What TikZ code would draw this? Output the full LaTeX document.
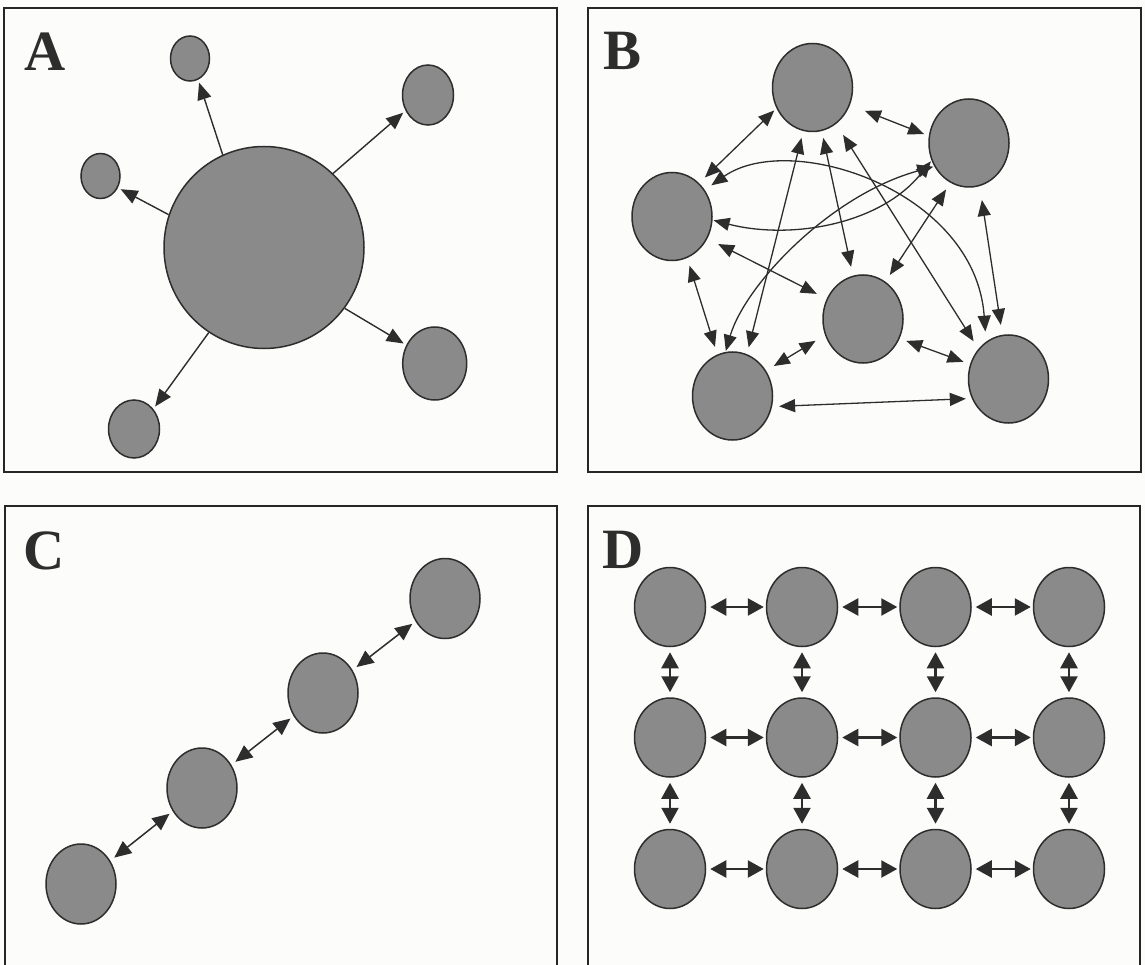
\documentclass[tikz,border=0pt]{standalone}
\usepackage{fontspec}
\setmainfont{Liberation Serif}
\usetikzlibrary{shapes.geometric, arrows.meta}
\definecolor{paper}{RGB}{252,252,250}
\definecolor{ink}{RGB}{45,45,45}
\definecolor{blobfill}{RGB}{138,138,138}
\definecolor{frame}{RGB}{38,38,38}
\begin{document}
\begin{tikzpicture}[x=1pt, y=-1pt,
  blob/.style={ellipse, draw=ink, fill=blobfill, line width=1.5pt, inner sep=0pt},
  bnode/.style={blob, minimum width=80pt, minimum height=88pt},
  cnode/.style={blob, minimum width=70pt, minimum height=80pt},
  dnode/.style={blob, minimum width=71pt, minimum height=79pt},
  panel/.style={draw=frame, line width=2pt},
  lbl/.style={font=\bfseries\fontsize{57}{57}\selectfont, text=ink, inner sep=0pt, anchor=base west},
  one/.style={draw=ink, line width=1.4pt, -{Triangle[length=17pt,width=14pt]}, shorten >=3pt},
  two/.style={draw=ink, line width=1.3pt, {Triangle[length=16pt,width=13pt]}-{Triangle[length=16pt,width=13pt]}},
  chain/.style={draw=ink, line width=1.5pt, {Triangle[length=17pt,width=15pt]}-{Triangle[length=17pt,width=15pt]}, shorten <=5pt, shorten >=4pt},
  gridh/.style={draw=ink, line width=2.4pt, {Triangle[length=16pt,width=17pt]}-{Triangle[length=16pt,width=17pt]}, shorten <=4pt, shorten >=2pt},
  gridv/.style={draw=ink, line width=2.4pt, {Triangle[length=16pt,width=17pt]}-{Triangle[length=16pt,width=17pt]}, shorten <=5pt, shorten >=5pt}
]
\path[use as bounding box] (0,0) rectangle (1145,965);
\clip (0,0) rectangle (1145,965);
\fill[paper] (0,0) rectangle (1145,965);

% ---- frames ----
\draw[panel] (4,8) rectangle (557,472);
\draw[panel] (588,8) rectangle (1141,472);
\draw[panel] (5,990) -- (5,506) -- (557,506) -- (557,990);
\draw[panel] (588,990) -- (588,506) -- (1140,506) -- (1140,990);

% ---- labels ----
\node[lbl] (labA) at (24.5,71) {A};
\node[lbl] (labB) at (603,70) {B};
\node[lbl] (labC) at (23.5,569) {C};
\node[lbl] (labD) at (602,568) {D};

% ---- A: hub with satellites ----
\node[blob, minimum width=200pt, minimum height=202pt] (hub) at (264,247.5) {};
\node[blob, minimum width=39pt, minimum height=45pt] (a1) at (190,58.5) {};
\node[blob, minimum width=51pt, minimum height=60pt] (a2) at (428,95) {};
\node[blob, minimum width=39pt, minimum height=45pt] (a3) at (100.5,176) {};
\node[blob, minimum width=64pt, minimum height=73pt] (a4) at (434.7,363.5) {};
\node[blob, minimum width=51pt, minimum height=58pt] (a5) at (134,429) {};
\draw[one] (hub.114) -- (a1.291);
\draw[one] (hub.47) -- (a2.215);
\draw[one] (hub.161) -- (a3.326);
\draw[one] (hub.323) -- (a4.147);
\draw[one] (hub.237) -- (a5.46);

% ---- B: fully connected ----
\node[bnode] (T) at (812.5,87.5) {};
\node[bnode] (UR) at (969,143) {};
\node[bnode] (L) at (672,216.5) {};
\node[bnode] (Cc) at (863,319) {};
\node[bnode] (BL) at (732.5,396) {};
\node[bnode] (BR) at (1008.5,379) {};
\draw[two, shorten <=3pt, shorten >=8pt] (T.210) -- (L.51);
\draw[two, shorten <=16pt, shorten >=5pt] (T.335) -- (UR.170);
\draw[two, shorten <=7pt, shorten >=7pt] (T.258) -- (BL.71);
\draw[two, shorten <=7pt, shorten >=9pt] (T.282) -- (Cc.103);
\draw[two, shorten <=13pt, shorten >=9pt] (T.303) -- (BR.135);
\draw[two, shorten <=8pt, shorten >=8pt] (UR.245) -- (Cc.59);
\draw[two, shorten <=14pt, shorten >=10pt] (UR.284) -- (BR.98);
\draw[two, shorten <=12pt, shorten >=11pt] (L.328) -- (Cc.151);
\draw[two, shorten <=8pt, shorten >=8pt] (L.290) -- (BL.110);
\draw[two, shorten <=9pt, shorten >=11pt] (BL.37) -- (Cc.203);
\draw[two, shorten <=7pt, shorten >=7pt] (Cc.332) -- (BR.159);
\draw[two, shorten <=7pt, shorten >=6pt] (BL.345) -- (BR.208);
\draw[two, shorten <=8pt, shorten >=10pt] (L.39) .. controls (790,130) and (975,190) .. (BR.121);
\draw[two, shorten <=1pt, shorten >=1pt] (L.355) .. controls (790,240) and (880,225) .. (UR.205);
\draw[two, shorten <=1pt, shorten >=1pt] (BL.99) .. controls (745,285) and (830,195) .. (UR.214);

% ---- C: chain ----
\node[cnode] (c1) at (81,884) {};
\node[cnode] (c2) at (202,788) {};
\node[cnode] (c3) at (323,693) {};
\node[cnode] (c4) at (445,598.5) {};
\draw[chain] (c1) -- (c2);
\draw[chain] (c2) -- (c3);
\draw[chain] (c3) -- (c4);

% ---- D: lattice ----
\foreach \r/\y in {1/607,2/737.5,3/869}{
  \foreach \c/\x in {1/670,2/802,3/935.5,4/1069}{
    \node[dnode] (d\r\c) at (\x,\y) {};
  }
}
\foreach \r in {1,2,3}{
  \draw[gridh] (d\r1) -- (d\r2);
  \draw[gridh] (d\r2) -- (d\r3);
  \draw[gridh] (d\r3) -- (d\r4);
}
\foreach \c in {1,2,3,4}{
  \draw[gridv] (d1\c) -- (d2\c);
  \draw[gridv] (d2\c) -- (d3\c);
}
\end{tikzpicture}
\end{document}
